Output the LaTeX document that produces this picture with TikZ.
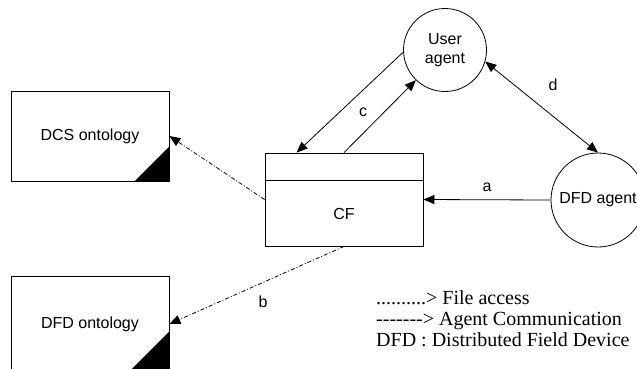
\documentclass[tikz,border=0pt]{standalone}
\usepackage{fontspec}
\setmainfont{Liberation Sans}
\newfontfamily\legendfont{Liberation Serif}
\usetikzlibrary{arrows.meta,calc}
% a single hyphen kept apart from its neighbours (no dash ligature)
\newcommand\hy{\mbox{-}}

\begin{document}
\begin{tikzpicture}[x=1pt,y=-1pt,
  every node/.style={font=\fontsize{16}{19}\selectfont, inner sep=0pt},
  thin line/.style={line width=0.8pt},
  onto/.style={draw, thin line, minimum width=158pt, minimum height=90pt},
  agent/.style={draw, circle, thin line},
  msg/.style={thin line, -{Triangle[length=11pt,width=9pt]}},
  file/.style={thin line, dash pattern=on 4pt off 2pt on 1pt off 2pt,
               -{Triangle[length=11pt,width=9pt]}},
  legend/.style={anchor=base west, font=\legendfont\fontsize{20}{21}\selectfont}]

\clip (0,0) rectangle (637,368);

% ontology files
\node[onto] (dcs) at (90,136) {DCS ontology};
\node[onto, minimum height=96pt] (dfdo) at (90,324) {DFD ontology};
\fill (dcs.south east) -- ++(-35,0) -- ++(35,-35) -- cycle;
\fill (dfdo.south east) -- ++(-41,0) -- ++(41,-41) -- cycle;

% CF component with its header band
\node[draw, thin line, minimum width=158pt, minimum height=93pt] (cf) at (344,199.5) {};
\draw[thin line] ($(cf.north west)+(0,28)$) -- ($(cf.north east)+(0,28)$);
\node (cft) at (344,213.5) {CF};

% agents
\node[agent, minimum size=83pt, align=center] (ua) at (445,50) {User\\agent};
\node[agent, minimum size=94pt] (dfda) at (598,200) {DFD agent};

% agent communication
\draw[msg] (dfda.west) -- (cf.east);
\draw[msg] (ua.183) -- ($(cf.north west)+(32,0)$);
\draw[msg] (cf.north) -- (ua.226);
\draw[thin line, {Triangle[length=11pt,width=9pt]}-{Triangle[length=11pt,width=9pt]}] (ua.-16) -- (dfda.north);

% file access
\draw[file] (cf.west) -- (dcs.east);
\draw[file] (cf.south) -- (dfdo.east);

% connector tags
\node (ta) at (487,187) {a};
\node (tb) at (263,302) {b};
\node (tc) at (363,112) {c};
\node (td) at (553,85) {d};

% key
\node[legend] (k1) at (376,304) {..........> File access};
\node[legend] (k2) at (376,325) {\hy\hy\hy\hy\hy\hy\hy> Agent Communication};
\node[legend] (k3) at (376,346) {DFD : Distributed Field Device};
\end{tikzpicture}
\end{document}
